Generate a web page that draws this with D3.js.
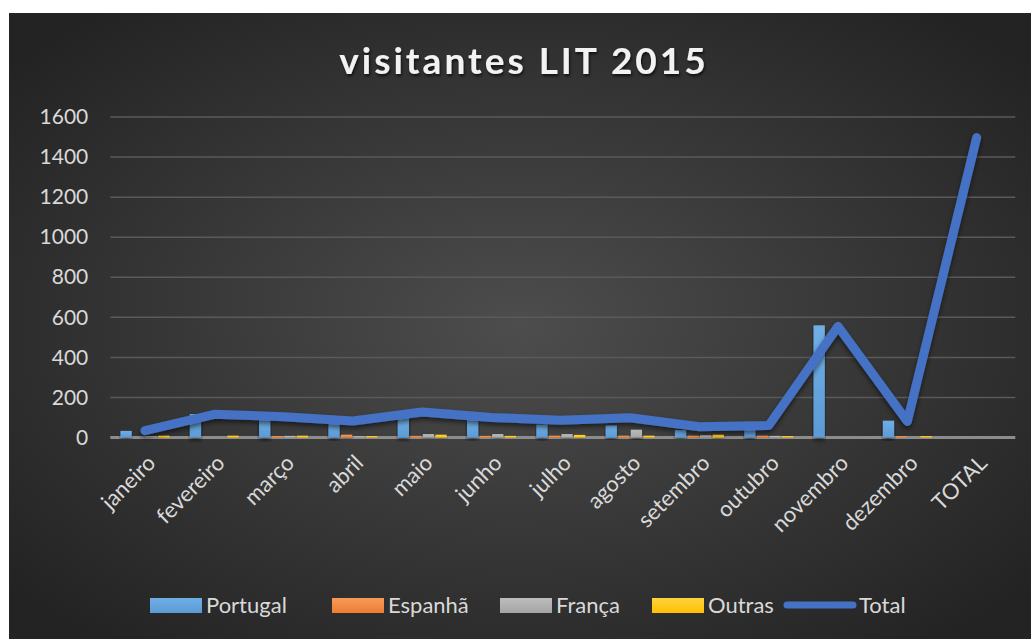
<!DOCTYPE html>
<html>
<head>
<meta charset="utf-8">
<script src="https://cdn.jsdelivr.net/npm/d3@7"></script>
<style>
  html, body { margin: 0; padding: 0; background: #fff; }
  svg { display: block; }
</style>
</head>
<body>
<div id="chart"></div>
<script>
// data
const months = ["janeiro", "fevereiro", "março", "abril", "maio", "junho", "julho",
  "agosto", "setembro", "outubro", "novembro", "dezembro", "TOTAL"];
const portugal = [28, 112, 95, 70, 103, 82, 60, 55, 32, 50, 555, 79, null];
const espanha = [0, 0, 2, 9, 3, 3, 4, 4, 4, 4, 0, 2, null];
const franca = [2, 0, 3, 1, 12, 12, 12, 34, 6, 3, 0, 0, null];
const outras = [4, 4, 4, 2, 9, 3, 8, 4, 9, 2, 0, 2, null];
const total = [34, 116, 104, 82, 127, 100, 86, 99, 54, 60, 555, 80, 1497];
const yTicks = [0, 200, 400, 600, 800, 1000, 1200, 1400, 1600];

const barSeries = [
    { name: "Portugal", values: portugal, color: "#5b9bd5", light: "#70aee6" },
    { name: "Espanhã", values: espanha, color: "#ed7d31", light: "#f69a5a" },
    { name: "França", values: franca, color: "#a5a5a5", light: "#bdbdbd" },
    { name: "Outras", values: outras, color: "#ffc000", light: "#ffd23f" }
];

const width = 1031, height = 639;
const font = "Lato, 'Open Sans', sans-serif";

const svg = d3.select("#chart")
    .append("svg")
    .attr("width", width)
    .attr("height", height);

const defs = svg.append("defs");

// background gradient, lighter in the middle
const bg = defs.append("radialGradient")
    .attr("id", "bg")
    .attr("cx", "50%").attr("cy", "50%").attr("r", "65%");
bg.append("stop").attr("offset", "0%").attr("stop-color", "#4d4d4d");
bg.append("stop").attr("offset", "100%").attr("stop-color", "#232323");

barSeries.forEach((s, i) => {
    const g = defs.append("linearGradient")
        .attr("id", "bar" + i)
        .attr("x1", 0).attr("y1", 0).attr("x2", 0).attr("y2", 1);
    g.append("stop").attr("offset", "0%").attr("stop-color", s.light);
    g.append("stop").attr("offset", "100%").attr("stop-color", s.color);
});

const shadow = defs.append("filter")
    .attr("id", "shadow")
    .attr("x", "-10%").attr("y", "-10%").attr("width", "120%").attr("height", "130%");
shadow.append("feDropShadow")
    .attr("dx", 0).attr("dy", 3).attr("stdDeviation", 2.5)
    .attr("flood-color", "#000").attr("flood-opacity", 0.55);

const textShadow = defs.append("filter").attr("id", "tshadow");
textShadow.append("feDropShadow")
    .attr("dx", 1).attr("dy", 2).attr("stdDeviation", 1.5)
    .attr("flood-color", "#000").attr("flood-opacity", 0.7);

// chart area
svg.append("rect")
    .attr("x", 9).attr("y", 13)
    .attr("width", width - 9).attr("height", height - 13)
    .attr("fill", "url(#bg)");

// scales
const plotLeft = 110.3, plotRight = 1011.3, plotTop = 117, plotBottom = 437.5;

const x = d3.scaleBand()
    .domain(months)
    .range([plotLeft, plotRight]);

const y = d3.scaleLinear()
    .domain([0, 1600])
    .range([plotBottom, plotTop]);

const x1 = d3.scaleBand()
    .domain(barSeries.map(s => s.name))
    .range([-24.5, 24.5])
    .paddingInner(0.1);

// title
svg.append("text")
    .attr("x", 524)
    .attr("y", 74)
    .attr("text-anchor", "middle")
    .style("font-family", font)
    .style("font-size", "37px")
    .style("font-weight", "bold")
    .style("letter-spacing", "3px")
    .style("fill", "#f2f2f2")
    .attr("filter", "url(#tshadow)")
    .text("visitantes LIT 2015");

// grid lines
svg.append("g")
    .selectAll("line")
    .data(yTicks.filter(t => t > 0))
    .join("line")
    .attr("x1", plotLeft).attr("x2", plotRight + 4)
    .attr("y1", d => y(d)).attr("y2", d => y(d))
    .attr("stroke", "#5a5a5a")
    .attr("stroke-width", 1.5);

// y axis labels
const yAxis = svg.append("g")
    .attr("transform", `translate(${plotLeft - 22},0)`)
    .call(d3.axisLeft(y).tickValues(yTicks).tickFormat(d3.format("d")).tickSize(0).tickPadding(0));
yAxis.select(".domain").remove();
yAxis.selectAll("text")
    .style("font-family", font)
    .style("font-size", "21px")
    .style("fill", "#d9d9d9");

// baseline, under the bars
svg.append("line")
    .attr("x1", plotLeft).attr("x2", plotRight + 4)
    .attr("y1", y(0)).attr("y2", y(0))
    .attr("stroke", "#8c8c8c")
    .attr("stroke-width", 3);

// bars
barSeries.forEach((s, si) => {
    svg.append("g")
        .selectAll("rect")
        .data(s.values.map((v, i) => ({ m: months[i], v })).filter(d => d.v !== null && d.v > 0))
        .join("rect")
        .attr("x", d => x(d.m) + x.bandwidth() / 2 + x1(s.name))
        .attr("width", x1.bandwidth())
        .attr("y", d => y(d.v) - 1)
        .attr("height", d => y(0) - y(d.v) + 1)
        .attr("fill", `url(#bar${si})`)
        .attr("filter", "url(#shadow)");
});

// x labels, rotated
svg.append("g")
    .selectAll("text")
    .data(months)
    .join("text")
    .attr("transform", d => `translate(${x(d) + x.bandwidth() / 2 + 1},${plotBottom + 16}) rotate(-45)`)
    .attr("text-anchor", "end")
    .attr("dy", "0.7em")
    .style("font-family", font)
    .style("font-size", "22px")
    .style("fill", "#d9d9d9")
    .text(d => d);

// total line
const line = d3.line()
    .x((d, i) => x(months[i]) + x.bandwidth() / 2)
    .y(d => y(d));

svg.append("path")
    .datum(total)
    .attr("d", line)
    .attr("fill", "none")
    .attr("stroke", "#4472c4")
    .attr("stroke-width", 9)
    .attr("stroke-linecap", "round")
    .attr("stroke-linejoin", "round")
    .attr("filter", "url(#shadow)");

// legend
const legendItems = [
    { name: "Portugal", x: 150, idx: 0 },
    { name: "Espanhã", x: 332, idx: 1 },
    { name: "França", x: 500, idx: 2 },
    { name: "Outras", x: 652, idx: 3 },
    { name: "Total", x: 787, idx: -1 }
];
const legendY = 605;

const legend = svg.append("g");
legendItems.forEach(it => {
    if (it.idx >= 0) {
        legend.append("rect")
            .attr("x", it.x).attr("y", legendY - 7)
            .attr("width", 52).attr("height", 15)
            .attr("fill", `url(#bar${it.idx})`);
    } else {
        legend.append("line")
            .attr("x1", it.x).attr("x2", it.x + 66)
            .attr("y1", legendY).attr("y2", legendY)
            .attr("stroke", "#4472c4")
            .attr("stroke-width", 7)
            .attr("stroke-linecap", "round");
    }
    legend.append("text")
        .attr("x", it.x + (it.idx >= 0 ? 56 : 72))
        .attr("y", legendY)
        .attr("dy", "0.35em")
        .style("font-family", font)
        .style("font-size", "22px")
        .style("fill", "#d9d9d9")
        .text(it.name);
});
</script>
</body>
</html>
